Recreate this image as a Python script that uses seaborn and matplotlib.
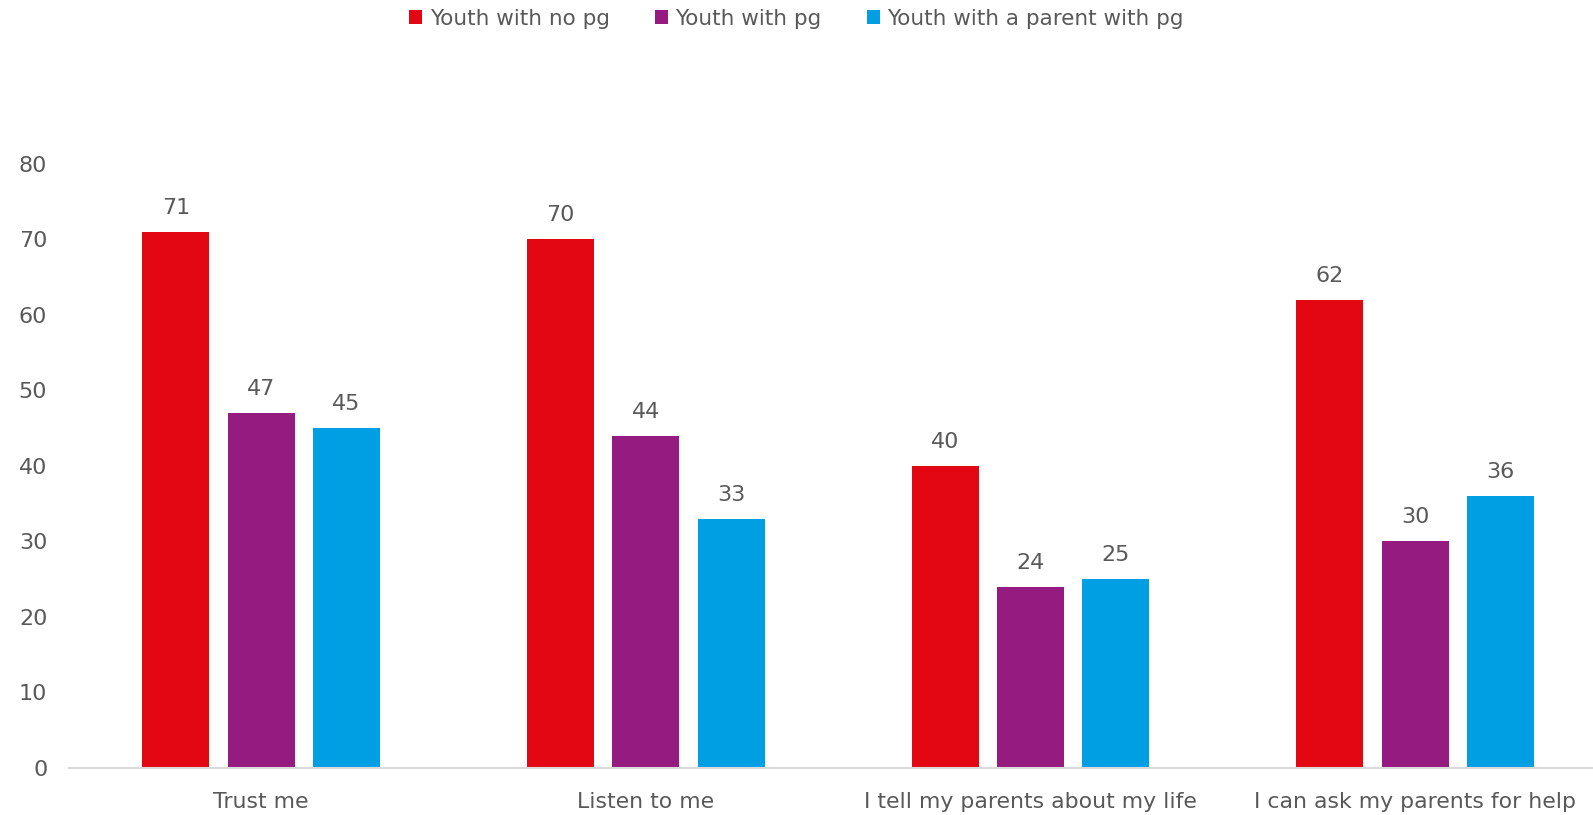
import matplotlib
matplotlib.use("Agg")
import matplotlib.pyplot as plt
from matplotlib.patches import Patch
import pandas as pd
import seaborn as sns

categories = ["Trust me", "Listen to me", "I tell my parents about my life",
              "I can ask my parents for help"]
series_names = ["Youth with no pg", "Youth with pg", "Youth with a parent with pg"]
no_pg = [71, 70, 40, 62]
with_pg = [47, 44, 24, 30]
parent_pg = [45, 33, 25, 36]
yticks = [0, 10, 20, 30, 40, 50, 60, 70, 80]

colors = ["#E30613", "#951B81", "#009FE3"]
text_color = "#595959"

df = pd.DataFrame({
    "category": categories * 3,
    "group": [series_names[0]] * 4 + [series_names[1]] * 4 + [series_names[2]] * 4,
    "value": no_pg + with_pg + parent_pg,
})

sns.set_theme(style="white")
plt.rcParams["font.family"] = ["DejaVu Sans"]

fig = plt.figure(figsize=(15.93, 8.15), dpi=100)
ax = fig.add_axes([0.0432, 0.0577, 0.9568, 0.7416])

sns.barplot(data=df, x="category", y="value", hue="group", order=categories,
            hue_order=series_names, palette=colors, width=0.666, gap=0.215,
            saturation=1, linewidth=0, ax=ax, legend=False)

for container in ax.containers:
    ax.bar_label(container, fmt="%d", padding=10, fontsize=16, color=text_color)

ax.set_ylim(0, 80)
ax.set_yticks(yticks)
ax.set_xlim(-0.5, 3.462)
ax.set_xlabel("")
ax.set_ylabel("")
ax.tick_params(axis="y", length=0, pad=15.5, labelsize=16, labelcolor=text_color)
ax.tick_params(axis="x", length=0, pad=17.5, labelsize=15.8, labelcolor=text_color)
for side in ["top", "right", "left"]:
    ax.spines[side].set_visible(False)
ax.spines["bottom"].set_color("#D9D9D9")
ax.spines["bottom"].set_linewidth(1.5)

handles = [Patch(facecolor=c, edgecolor="none") for c in colors]
fig.legend(handles, series_names, loc="upper center", bbox_to_anchor=(0.5, 1.0),
           ncol=3, frameon=False, fontsize=15.5, labelcolor=text_color,
           handlelength=0.6, handleheight=0.6, handletextpad=0.35,
           columnspacing=2.1, borderaxespad=0.0)

fig.savefig("out.png", dpi=100)
